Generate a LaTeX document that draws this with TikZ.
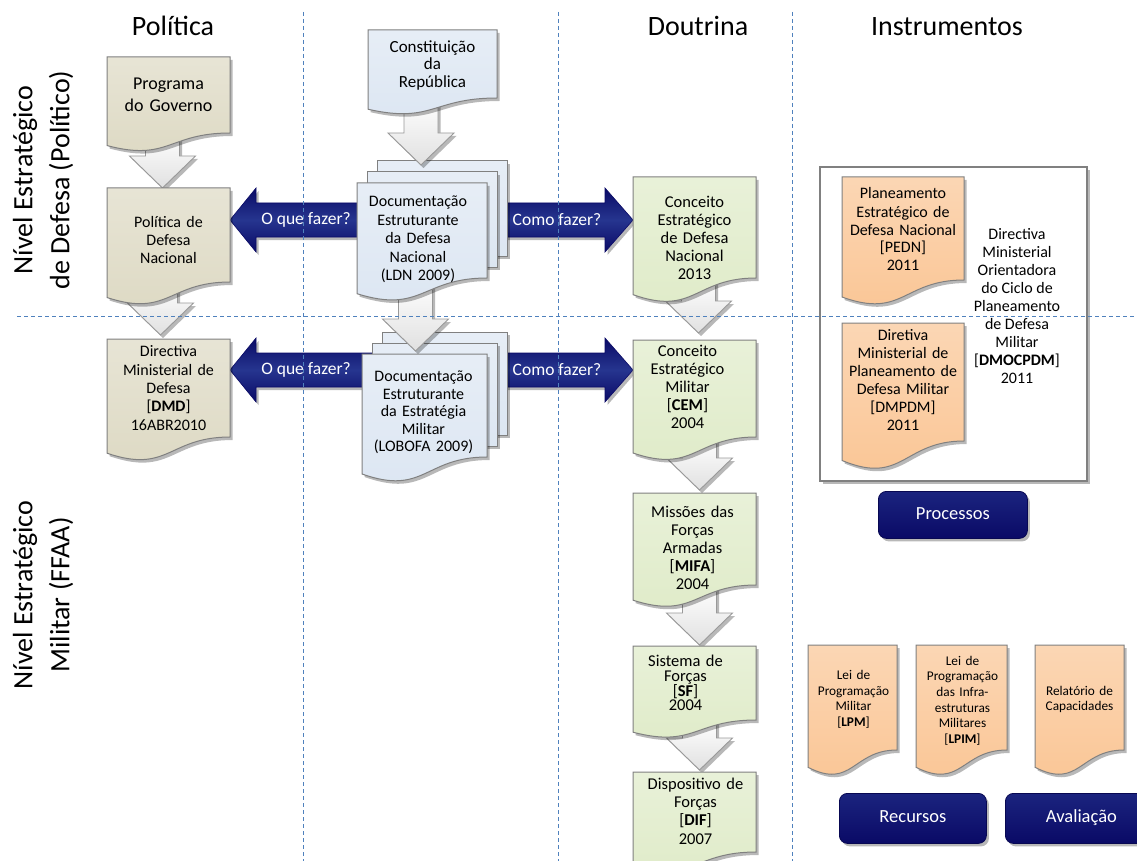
\documentclass[tikz,border=0pt]{standalone}
\usepackage{fontspec}
\setmainfont{Carlito}
\usetikzlibrary{calc,shadows}

\pgfdeclarelayer{navylayer}
\pgfdeclarelayer{backpages}
\pgfdeclarelayer{flow}
\pgfdeclarelayer{boxes}
\pgfdeclarelayer{guides}
\pgfsetlayers{navylayer,backpages,flow,boxes,main,guides}

\definecolor{tanfill}{HTML}{DDD9C3}
\definecolor{bluefill}{HTML}{DCE6F2}
\definecolor{greenfill}{HTML}{DFEBC8}
\definecolor{orangefill}{HTML}{FAC594}
\definecolor{navydark}{HTML}{0A0A66}
\definecolor{navymid}{HTML}{26358F}
\definecolor{guideblue}{HTML}{4F81BD}
\definecolor{edgegray}{HTML}{808080}

\newcommand\fsz[2]{\fontsize{#1}{#2}\selectfont}

\tikzset{
  area/.style={anchor=north west, inner sep=0pt, outer sep=0pt},
  doctext/.style={align=center, inner sep=0pt, text width=#1},
  softshadow/.style={drop shadow={shadow xshift=2.5pt, shadow yshift=-3pt, opacity=0.28, fill=black}},
  paper/.style={draw=black!50, line width=1pt, top color=#1!70!white, bottom color=#1, softshadow},
  flowarrow/.style={draw=black!40, line width=0.9pt, top color=white, bottom color=black!12, softshadow},
  navyarrow/.style={draw=navydark, line width=0.6pt, top color=navydark, bottom color=navydark, middle color=navymid, softshadow},
  navylabel/.style={text=white, font=\fsz{17.5}{20}, inner sep=0pt},
  button/.style={anchor=north west, rounded corners=8pt, draw=navydark!80!black, line width=0.8pt,
    top color=navymid!60!navydark, bottom color=navydark, text=white, font=\fsz{18.5}{22},
    text height=13pt, text depth=4pt, softshadow, inner sep=0pt},
  header/.style={anchor=base, font=\fsz{28}{34}},
  sidelabel/.style={rotate=90, align=center, font=\fsz{28}{37}},
  guide/.style={draw=guideblue, line width=0.9pt, dash pattern=on 4pt off 3pt},
}

% sheet with a wavy lower edge, hung on the straight part given by an area node
\newcommand\sheet[2]{%
  \path[paper=#2] (#1.north west) -- (#1.north east) -- (#1.south east)
    .. controls (#1.south) and ($(#1.south)!-0.38!(#1.north)$)
    .. ($(#1.south west)!-0.165!(#1.north west)$) -- cycle;}
% two sheets stacked behind a front sheet
\newcommand\sheetstack[2]{%
  \path[paper=#2] ($(#1.north west)+(20,-22)$) rectangle ($(#1.south east)+(20,-22)$);
  \path[paper=#2] ($(#1.north west)+(10,-11)$) rectangle ($(#1.south east)+(10,-11)$);}
% white block arrow pointing down: {x shift}{lift of the tip}{from}{to}
\newcommand\flowdown[4]{%
  \path[flowarrow]
    ($(#4.north |- #3.south)+(#1-17,0)$) --
    ($(#4.north)+(#1-17,-32-#2)$) --
    ($(#4.north)+(#1-33,-32-#2)$) --
    ($(#4.north)+(#1,-#2)$) --
    ($(#4.north)+(#1+33,-32-#2)$) --
    ($(#4.north)+(#1+17,-32-#2)$) --
    ($(#4.north |- #3.south)+(#1+17,0)$) -- cycle;}
% navy block arrow: {tail}{tip}{signed head length}
\newcommand\bluearrow[3]{%
  \path[navyarrow] ($(#1)+(0,-17)$) -- ($(#2)+(#3,-17)$) -- ($(#2)+(#3,-32)$) -- (#2)
    -- ($(#2)+(#3,32)$) -- ($(#2)+(#3,17)$) -- ($(#1)+(0,17)$) -- cycle;}

\begin{document}
\begin{tikzpicture}[x=1pt,y=-1pt]
\path[use as bounding box] (0,0) rectangle (1137,861);

% straight parts of the sheets
\node[area, minimum width=123, minimum height=76]  (pg)     at (107,57) {};
\node[area, minimum width=123, minimum height=94]  (pdn)    at (107,188) {};
\node[area, minimum width=123, minimum height=98]  (dmd)    at (107,339) {};
\node[area, minimum width=129, minimum height=68]  (const)  at (368,30) {};
\node[area, minimum width=130, minimum height=95]  (ldn)    at (357,183) {};
\node[area, minimum width=125, minimum height=103] (lobofa) at (362,354) {};
\node[area, minimum width=123, minimum height=101] (cedn)   at (633,177) {};
\node[area, minimum width=123, minimum height=97]  (cem)    at (633,340) {};
\node[area, minimum width=123, minimum height=92]  (mifa)   at (633,493) {};
\node[area, minimum width=123, minimum height=74]  (sf)     at (633,646) {};
\node[area, minimum width=123, minimum height=80]  (dif)    at (633,772) {};
\node[area, minimum width=122, minimum height=103] (pedn)   at (842,177) {};
\node[area, minimum width=122, minimum height=118] (dmpdm)  at (842,323) {};
\node[area, minimum width=89,  minimum height=105] (lpm)    at (808,645) {};
\node[area, minimum width=91,  minimum height=105] (lpim)   at (916,645) {};
\node[area, minimum width=89,  minimum height=105] (rel)    at (1035,645) {};

\coordinate (row1) at (0,220);
\coordinate (row2) at (0,370);

% navy arrows between the documents
\begin{pgfonlayer}{navylayer}
  \fill[white] (0,0) rectangle (1137,861);
  \bluearrow{ldn.center |- row1}{pdn.east |- row1}{26}
  \bluearrow{ldn.center |- row1}{cedn.west |- row1}{-28}
  \bluearrow{lobofa.center |- row2}{dmd.east |- row2}{26}
  \bluearrow{lobofa.center |- row2}{cem.west |- row2}{-28}
\end{pgfonlayer}

% frame of the directive and the pages behind the stacks
\begin{pgfonlayer}{backpages}
  \node[area, draw=edgegray, line width=2pt, fill=white, softshadow,
        minimum width=267, minimum height=314] (frm) at (820,167) {};
  \sheetstack{ldn}{bluefill}
  \sheetstack{lobofa}{bluefill}
\end{pgfonlayer}

% white arrows of the flow
\begin{pgfonlayer}{flow}
  \flowdown{-6}{0}{pg}{pdn}
  \flowdown{-8}{4}{pdn}{dmd}
  \flowdown{-1}{18}{const}{ldn}
  \flowdown{-9}{3}{ldn}{lobofa}
  \flowdown{4}{7}{cedn}{cem}
  \flowdown{5}{3}{cem}{mifa}
  \flowdown{5}{1}{mifa}{sf}
  \flowdown{5}{2}{sf}{dif}
\end{pgfonlayer}

% sheets and buttons
\begin{pgfonlayer}{boxes}
  \sheet{pg}{tanfill}
  \sheet{pdn}{tanfill}
  \sheet{dmd}{tanfill}
  \sheet{const}{bluefill}
  \sheet{ldn}{bluefill}
  \sheet{lobofa}{bluefill}
  \sheet{cedn}{greenfill}
  \sheet{cem}{greenfill}
  \sheet{mifa}{greenfill}
  \sheet{sf}{greenfill}
  \sheet{dif}{greenfill}
  \sheet{pedn}{orangefill}
  \sheet{dmpdm}{orangefill}
  \sheet{lpm}{orangefill}
  \sheet{lpim}{orangefill}
  \sheet{rel}{orangefill}
  \node[button, minimum width=149, minimum height=47] (proc) at (878,491) {Processos};
  \node[button, minimum width=147, minimum height=50] (recu) at (839,793) {Recursos};
  \node[button, minimum width=152, minimum height=50] (aval) at (1005,793) {Avaliação};
\end{pgfonlayer}

% headings
\node[header] (hpol) at (173,36) {Política};
\node[header] (hdou) at (698,36) {Doutrina};
\node[header] (hins) at (947,36) {Instrumentos};
\node[sidelabel] (lvl1) at (43,180) {Nível Estratégico\\de Defesa (Político)};
\node[sidelabel] (lvl2) at (43,595) {Nível Estratégico\\Militar (FFAA)};

% texts of the sheets
\node[doctext=119pt, font=\fsz{18}{22}]   (pg-t)  at (pg.center) {Programa\\do Governo};
\node[doctext=119pt, font=\fsz{16}{18}]   (pdn-t) at ($(pdn.center)+(0,5)$) {Política de\\Defesa\\Nacional};
\node[doctext=119pt, font=\fsz{16}{18.3}] (dmd-t) at (dmd.center) {Directiva\\Ministerial de\\Defesa\\{[}\textbf{DMD}{]}\\16ABR2010};
\node[doctext=125pt, font=\fsz{17}{17.5}] (const-t) at ($(const.center)+(0,1)$) {Constituição\\da\\República};
\node[doctext=126pt, font=\fsz{16}{18.5}] (ldn-t) at ($(ldn.center)+(-4,9)$) {Documentação\\Estruturante\\da Defesa\\Nacional\\(LDN 2009)};
\node[doctext=121pt, font=\fsz{16}{17.5}] (lobofa-t) at ($(lobofa.center)+(-1,7)$) {Documentação\\Estruturante\\da Estratégia\\Militar\\(LOBOFA 2009)};
\node[doctext=119pt, font=\fsz{16.5}{18}] (cedn-t) at ($(cedn.center)+(0,10)$) {Conceito\\Estratégico\\de Defesa\\Nacional\\2013};
\node[doctext=119pt, font=\fsz{16.5}{18}] (cem-t) at ($(cem.center)+(-7,-2)$) {Conceito\\Estratégico\\Militar\\{[}\textbf{CEM}{]}\\2004};
\node[doctext=119pt, font=\fsz{16.5}{18}] (mifa-t) at ($(mifa.center)+(-2,9)$) {Missões das\\Forças\\Armadas\\{[}\textbf{MIFA}{]}\\2004};
\node[doctext=119pt, font=\fsz{16.5}{14.7}] (sf-t) at ($(sf.center)+(-9,0)$) {Sistema de\\Forças\\{[}\textbf{SF}{]}\\2004};
\node[doctext=119pt, font=\fsz{16.5}{18.3}] (dif-t) at ($(dif.center)+(1,-1)$) {Dispositivo de\\Forças\\{[}\textbf{DIF}{]}\\2007};
\node[doctext=118pt, font=\fsz{16}{18}] (pedn-t) at ($(pedn.center)+(0,1)$) {Planeamento\\Estratégico de\\Defesa Nacional\\{[}PEDN{]}\\2011};
\node[doctext=118pt, font=\fsz{16}{18}] (dmpdm-t) at ($(dmpdm.center)+(0,-2)$) {Diretiva\\Ministerial de\\Planeamento de\\Defesa Militar\\{[}DMPDM{]}\\2011};
\node[align=center, font=\fsz{16}{17.9}, inner sep=0pt] (dmoc) at (1017,306) {Directiva\\Ministerial\\Orientadora\\do Ciclo de\\Planeamento\\de Defesa\\Militar\\{[}\textbf{DMOCPDM}{]}\\2011};
\node[doctext=87pt, font=\fsz{13.3}{15.5}] (lpm-t) at ($(lpm.center)+(1,2)$) {Lei de\\Programação\\Militar\\{[}\textbf{LPM}{]}};
\node[doctext=89pt, font=\fsz{13.3}{15.6}] (lpim-t) at ($(lpim.center)+(1,3)$) {Lei de\\Programação\\das Infra-\\estruturas\\Militares\\{[}\textbf{LPIM}{]}};
\node[doctext=87pt, font=\fsz{13.3}{15.5}] (rel-t) at ($(rel.center)+(0,2)$) {Relatório de\\Capacidades};

% labels on the navy arrows
\node[navylabel] (ask1) at ($(pdn.east |- row1)+(76,0)$) {O que fazer?};
\node[navylabel] (how1) at ($(cedn.west |- row1)+(-76,0)$) {Como fazer?};
\node[navylabel] (ask2) at ($(dmd.east |- row2)+(76,0)$) {O que fazer?};
\node[navylabel] (how2) at ($(cem.west |- row2)+(-76,0)$) {Como fazer?};

% dashed guides between columns and levels
\begin{pgfonlayer}{guides}
  \draw[guide] (303.5,12) -- (303.5,861);
  \draw[guide] (558,12) -- (558,861);
  \draw[guide] (792,12) -- (792,861);
  \draw[guide] (17,316) -- (1137,316);
\end{pgfonlayer}
\end{tikzpicture}
\end{document}
